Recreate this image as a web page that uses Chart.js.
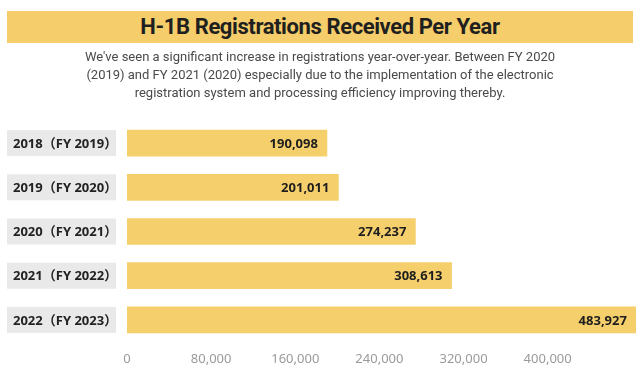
<!DOCTYPE html>
<html>
<head>
<meta charset="utf-8">
<script src="https://cdn.jsdelivr.net/npm/chart.js@4/dist/chart.umd.min.js"></script>
<style>
  html, body { margin: 0; padding: 0; background: #ffffff; }
  #wrap { position: relative; width: 640px; height: 381px; overflow: hidden; font-family: "Noto Sans", "Noto Sans CJK SC", sans-serif; }
  #title { position: absolute; left: 7px; top: 11px; width: 626px; height: 32px; background: #f5cd6a;
           text-align: center; font-family: Roboto, "Noto Sans", sans-serif; font-weight: bold; font-size: 22px; letter-spacing: -0.4px; line-height: 32px; color: #1f1f1f; }
  #sub { position: absolute; left: 0; top: 48px; width: 640px; text-align: center; font-family: Roboto, "Noto Sans", sans-serif; font-size: 13px; line-height: 18px; color: #4a4a4a; }
  canvas { position: absolute; left: 0; top: 0; }
</style>
</head>
<body>
<div id="wrap">
  <canvas id="c" width="640" height="381"></canvas>
  <div id="title">H-1B Registrations Received Per Year</div>
  <div id="sub">We've seen a significant increase in registrations year-over-year. Between FY 2020<br>(2019) and FY 2021 (2020) especially due to the implementation of the electronic<br>registration system and processing efficiency improving thereby.</div>
</div>
<script>
const categories = ["2018（FY 2019）", "2019（FY 2020）", "2020（FY 2021）", "2021（FY 2022）", "2022（FY 2023）"];
const registrations = [190098, 201011, 274237, 308613, 483927];
const tickValues = [0, 80000, 160000, 240000, 320000, 400000];

const FONT = '"Noto Sans", "Noto Sans CJK SC", sans-serif';

const decorPlugin = {
  id: 'decor',
  beforeDatasetsDraw(chart) {
    const ctx = chart.ctx;
    const y = chart.scales.y;
    ctx.save();
    categories.forEach((lab, i) => {
      const cy = y.getPixelForValue(i);
      ctx.fillStyle = '#e9e9e9';
      ctx.fillRect(7, cy - 13, 109, 26);
      ctx.fillStyle = '#222222';
      ctx.font = 'bold 13px ' + FONT;
      ctx.textAlign = 'left';
      ctx.textBaseline = 'middle';
      ctx.fillText(lab, 13, cy + 1);
    });
    ctx.restore();
  },
  afterDatasetsDraw(chart) {
    const ctx = chart.ctx;
    const meta = chart.getDatasetMeta(0);
    ctx.save();
    ctx.fillStyle = '#1e1e1e';
    ctx.font = 'bold 13px ' + FONT;
    ctx.textAlign = 'right';
    ctx.textBaseline = 'middle';
    meta.data.forEach((bar, i) => {
      ctx.fillText(registrations[i].toLocaleString('en-US'), bar.x - 9, bar.y + 1);
    });
    ctx.restore();
  }
};

new Chart(document.getElementById('c'), {
  type: 'bar',
  data: {
    labels: categories,
    datasets: [{
      data: registrations,
      backgroundColor: '#f5cf6b',
      borderWidth: 0,
      barThickness: 26
    }]
  },
  options: {
    indexAxis: 'y',
    responsive: false,
    animation: false,
    devicePixelRatio: 1,
    layout: { padding: { left: 127, top: 121, right: 4, bottom: 0 } },
    plugins: { legend: { display: false }, tooltip: { enabled: false } },
    scales: {
      y: { display: false, offset: true },
      x: {
        min: 0,
        max: 484000,
        grid: { display: false, drawTicks: false },
        border: { display: false },
        afterBuildTicks(scale) { scale.ticks = tickValues.map(v => ({ value: v })); },
        afterFit(scale) { scale.height = 39; },
        ticks: {
          padding: 9,
          color: '#9a9a9a',
          font: { family: FONT, size: 13 },
          callback: (v) => Number(v).toLocaleString('en-US')
        }
      }
    }
  },
  plugins: [decorPlugin]
});
</script>
</body>
</html>
